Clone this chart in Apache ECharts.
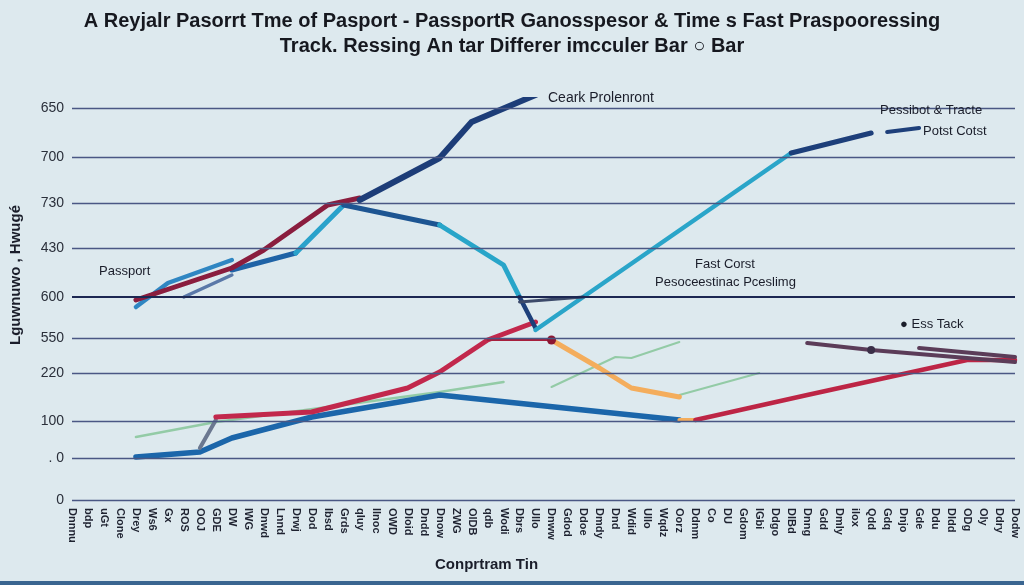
<!DOCTYPE html>
<html><head><meta charset="utf-8">
<script src="https://cdn.jsdelivr.net/npm/echarts@6/dist/echarts.min.js"></script>
<style>html,body{margin:0;padding:0;background:#dde9ee;}#c{width:1024px;height:585px;}</style>
</head><body><div id="c"></div>
<script>
const titleLine1 = "A Reyjalr Pasorrt Tme of Pasport - PassportR Ganosspesor & Time s Fast Praspooressing";
const titleLine2 = "Track. Ressing An tar Differer imcculer Bar \u25CB Bar";
const yAxisName = "Lguwnuwo , Hwug\u00e9";
const xAxisName = "Conprtram Tin";

const categories = ["Dnnnu","bdp","uGt","Clone","Drey","Ws6","Gx","ROS","OOJ","GDE","DW","IWG","Dnwd","Lnnd","Drwj","Dod","Ibsd","Grds","qIuy","llnoc","OWD","Dloid","Dndd","Dnow","ZWG","OlDB","qdb","Wodi","Dbrs","Ullo","Dnww","Gdod","Ddoe","Dmdy","Dnd","Wdid","Ullo","Wqdz","Oorz","Ddnm","Co","DU","Gdom","lGbi","Ddgo","DlBd","Dnng","Gdd","Dmly","ilox","Qdd","Gdq","Dnjo","Gde","Ddu","Dldd","ODg","Oly","Ddry","Dodw"];

const gridValues = [392, 343, 297, 252, 203, 162, 127, 79, 42, 0];
const gridLabels = ["650", "700", "730", "430", "600", "550", "220", "100", ". 0", "0"];

const passportMaroon = [[4,200],[10,232],[12,250],[16,295],[18,302]];
const navyRise = [[18,300],[23,342],[25,378],[29,405]];
const earlyBlue = [[4,193],[6,217],[10,240]];
const midBlue = [[10,230],[14,247]];
const cyanUp = [[14,247],[17,295]];
const navyDown = [[17,295],[23,275]];
const cyanDown = [[23,275],[27,235],[28,203]];
const navyDip = [[28,203],[29,172]];
const cyanLong = [[29,170],[45,347]];
const navyTop = [[45,347],[50,367]];
const navyTop2 = [[51,368],[53,372]];
const greyShort = [[7,203],[10,225]];
const darkArrow = [[28,198],[32,203]];
const greyStep = [[8,52],[9,80]];
const redRise = [[9,83],[15,88],[21,112],[23,128],[26,160],[29,178]];
const blueLow = [[4,43],[8,48],[10,62],[15,83],[23,105],[38,80]];
const greenA = [[4,63],[9,78],[23,108],[27,118]];
const orangeFall = [[30,160],[33,132],[35,112],[38,103]];
const orangeStub = [[38,80],[39,80]];
const redRight = [[39,80],[46,105],[56,140],[59,140]];
const greenB = [[30,113],[34,143],[35,142],[38,158]];
const greenC = [[38,105],[43,127]];
const plumA = [[46,157],[50,150],[59,138]];
const plumB = [[53,152],[59,143]];
const redFlat = [[26,160],[30,160]];

function line(data, color, width, extra) {
  return Object.assign({
    type: 'line', data: data, symbol: 'none', smooth: false,
    lineStyle: { color: color, width: width, cap: 'round', join: 'round' },
    itemStyle: { color: color }, silent: true, z: 3
  }, extra || {});
}

const chart = echarts.init(document.getElementById('c'), null, { renderer: 'canvas' });

const gridMark = {
  silent: true, symbol: ['none', 'none'],
  label: { show: true, position: 'start', distance: 8, color: '#2a2f3a', fontSize: 14,
           fontFamily: 'Liberation Sans Narrow, Liberation Sans, sans-serif' },
  data: gridValues.map((v, i) => ({
    yAxis: v,
    label: { formatter: gridLabels[i] },
    lineStyle: { color: v === 203 ? '#1c2752' : '#4a5784', width: v === 203 ? 2.2 : 1.4, type: 'solid' }
  }))
};

const series = [
  Object.assign(line([], '#000', 0), { markLine: gridMark, z: 1 }),
  line(greenA, '#93cba6', 2.5),
  line(greenB, '#93cba6', 2),
  line(greenC, '#93cba6', 2),
  line(blueLow, '#1b66aa', 5.5),
  line(greyStep, '#6b7890', 4),
  line(redRise, '#c2284c', 5),
  line(redFlat, '#a81f3c', 2, {
    data: [[26,160], { value: [30,160], symbol: 'circle', symbolSize: 9, itemStyle: { color: '#8c1632' } }]
  }),
  line(orangeFall, '#f4ad5c', 5),
  line(orangeStub, '#f4ad5c', 4),
  line(redRight, '#bd2545', 4.5),
  line(plumA, '#5b3c58', 4, {
    data: [[46,157], { value: [50,150], symbol: 'circle', symbolSize: 8, itemStyle: { color: '#3b2f48' } }, [59,138]]
  }),
  line(plumB, '#5b3c58', 4),
  line(greyShort, '#5a78a8', 3.5),
  line(earlyBlue, '#2f86c2', 4.5),
  line(midBlue, '#1f63a6', 5),
  line(cyanUp, '#2aa2cb', 5),
  line(navyDown, '#1d5592', 5),
  line(cyanDown, '#28a5c9', 5),
  line(navyDip, '#1d3f7a', 4.5),
  line(cyanLong, '#2aa5c9', 4.5),
  line(navyTop, '#1d3f7a', 5),
  line(navyTop2, '#1d3f7a', 4),
  line(darkArrow, '#3c4a6a', 3),
  line(passportMaroon, '#8a1d3e', 5),
  line(navyRise, '#1d3d78', 6, {
    data: [[18,300],[23,342],[25,378], { value: [29,405], symbol: 'arrow', symbolSize: 12, symbolRotate: -55, itemStyle: { color: '#1d3d78' } }]
  })
];

const textStyleBase = { fill: '#1a1d2a', fontFamily: 'Liberation Sans, sans-serif', fontSize: 14 };
function txt(x, y, t, extra) {
  return { type: 'text', left: x, top: y, z: 10, style: Object.assign({}, textStyleBase, { text: t }, extra || {}) };
}

chart.setOption({
  backgroundColor: '#dde9ee',
  animation: false,
  title: {
    text: titleLine1 + '\n' + titleLine2,
    left: 'center', top: 4,
    textStyle: { fontSize: 20, fontWeight: 'bold', color: '#16181f', lineHeight: 25,
                 fontFamily: 'Liberation Sans Narrow, Liberation Sans, sans-serif' }
  },
  grid: { left: 72, right: 9, top: 100, bottom: 85 },
  xAxis: {
    type: 'category', data: categories, boundaryGap: false,
    axisLine: { show: false }, axisTick: { show: false },
    axisLabel: { interval: 0, rotate: -90, fontSize: 11, color: '#1e2230', margin: 8,
                 fontFamily: 'Liberation Sans Narrow, Liberation Sans, sans-serif', fontWeight: 'bold' }
  },
  yAxis: {
    type: 'value', min: 0, max: 400,
    axisLine: { show: false }, axisTick: { show: false }, axisLabel: { show: false }, splitLine: { show: false }
  },
  series: series,
  graphic: [
    { type: 'text', left: 8, top: 205, rotation: Math.PI / 2, z: 10,
      style: { text: yAxisName, fill: '#1a1d2a', fontSize: 15, fontWeight: 'bold', fontFamily: 'Liberation Sans, sans-serif' } },
    txt(435, 557, xAxisName, { fontWeight: 'bold', fontSize: 15 }),
    txt(99, 265, 'Passport', { fontSize: 13 }),
    txt(548, 91, 'Ceark Prolenront', { fontSize: 14 }),
    txt(880, 104, 'Pessibot & Tracte', { fontSize: 13 }),
    txt(923, 125, 'Potst Cotst', { fontSize: 13 }),
    txt(695, 258, 'Fast Corst', { fontSize: 13 }),
    txt(655, 276, 'Pesoceestinac Pceslimg', { fontSize: 13 }),
    txt(900, 318, '\u25CF Ess Tack', { fontSize: 13 }),
    { type: 'rect', left: 0, top: 581, shape: { width: 1024, height: 4 }, style: { fill: '#3a6590' }, z: 10 }
  ]
});
</script>
</body></html>
